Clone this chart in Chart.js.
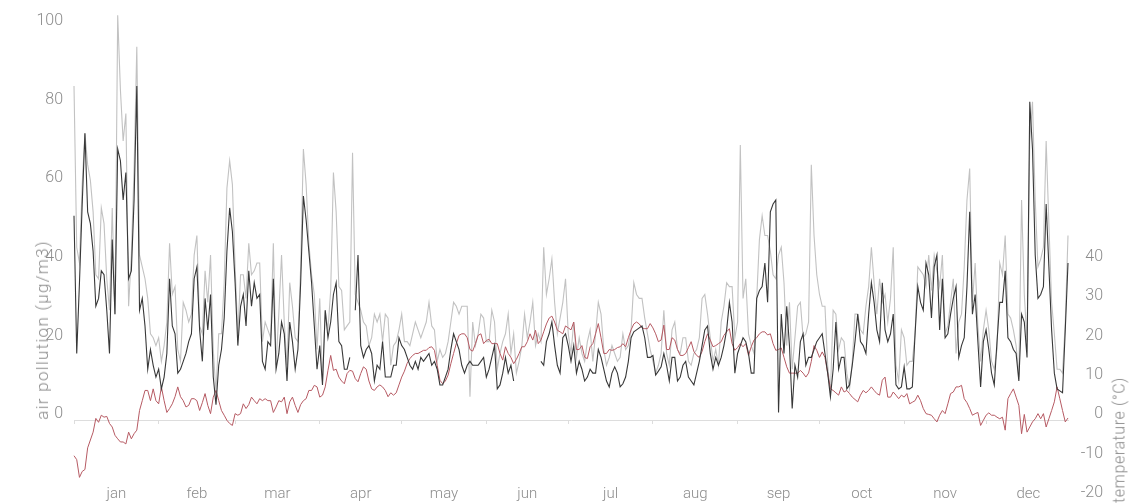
<!DOCTYPE html>
<html>
<head>
<meta charset="utf-8">
<script src="https://cdn.jsdelivr.net/npm/chart.js@4.4.1/dist/chart.umd.min.js"></script>
<style>
  html, body { margin: 0; padding: 0; background: #fff; }
  #wrap { position: relative; width: 1129px; height: 504px; overflow: hidden; }
  #wrap canvas { position: absolute; left: 0; top: 0; }
  .axis-title {
    position: absolute; white-space: nowrap;
    font-family: Roboto, "Noto Sans", sans-serif; font-weight: 300;
    color: #8c8c8c;
    transform: translate(-50%, -50%) rotate(-90deg);
  }
  #title-left { left: 42px; top: 330px; font-size: 17px; letter-spacing: 1.3px; }
  #title-right { left: 1119px; top: 440px; font-size: 16px; letter-spacing: 0.6px; }
</style>
</head>
<body>
<div id="wrap">
  <canvas id="chart" width="1129" height="504"></canvas>
  <div class="axis-title" id="title-left">air pollution (µg/m3)</div>
  <div class="axis-title" id="title-right">temperature (°C)</div>
</div>
<script>
// Month names and the day-of-year on which each month begins
const MONTHS = ['jan', 'feb', 'mar', 'apr', 'may', 'jun', 'jul', 'aug', 'sep', 'oct', 'nov', 'dec'];
const MONTH_START = [0, 31, 59, 90, 120, 151, 181, 212, 243, 273, 304, 334, 365];

// Axis tick values
const POLLUTION_TICKS = [0, 20, 40, 60, 80, 100];
const TEMPERATURE_TICKS = [-20, -10, 0, 10, 20, 30, 40];

// Daily air pollution, darker series (µg/m3); null = no measurement
const POLLUTION_DARK = [
  52, 17, 35, 55, 73, 53, 50, 43, 29, 31,
  38, 37, 28, 17, 46, 27, 69, 66, 56, 63,
  36, 38, 56, 85, 28, 31, 24, 13, 18, 14,
  11, 13, 8, 11, 17, 36, 24, 22, 12, 13,
  15, 17, 20, 22, 36, 39, 23, 15, 31, 23,
  32, 11, 4, 14, 18, 26, 43, 54, 48, 35,
  19, 29, 32, 24, 38, 29, 35, 31, 32, 15,
  13, 20, 19, 36, 13, 17, 25, 22, 10, 25,
  20, 13, 18, 35, 57, 51, 43, 35, 24, 13,
  19, 9, 28, 21, 25, 32, 35, 20, 19, 13,
  13, 16, null, 28, 42, 19, 16, 18, 19, 17,
  10, 14, 13, 20, 11, 11, 11, 14, 14, 21,
  19, 18, 16, 14, 13, 15, 13, 16, 15, 16,
  17, 14, 15, 13, 9, 9, 11, 13, 18, 22,
  20, 18, 14, 12, 14, 15, 14, 14, 14, 15,
  16, 11, 13, 16, 19, 8, 9, 12, 16, 12,
  14, 10, null, null, null, null, null, null, null, null,
  null, 15, 14, 20, 22, 25, 19, 14, 12, 21,
  22, 19, 15, 19, 12, 15, 13, 10, 11, 13,
  12, 12, 18, 16, 13, 10, 8.5, 12, 13.6, 12,
  8.5, 9.3, 11, 15, 21, 22.5, 23, 23.5, 24, 21,
  16, 16, 16.5, 11.5, 12.5, 13.6, 17, 14, 10, 16,
  16, 10, 11, 14, 15, 11, 10, 9, 12, 15,
  19, 23, 24, 17, 13, 16, 14, 16, 19, 23,
  30, 25, 12, 17, 19, 21, 20, 17, 12, 12,
  31, 33, 34, 40, 30, 53, 55, 56, 2, 27,
  17, 29, 19, 3, 14, 11, 20, 22, 14, 16,
  16, 18, 20, 21, 22, 17, 12, 6, 13, 25,
  13, 16, 16, 8, 9, 14, 20, 27, 20, 19,
  17, 27, 35, 30, 23, 20, 35, 23, 20, 22,
  27, 9, 8, 8.5, 13.6, 8, 8, 8.5, 22, 34,
  30, 28, 40, 37, 26, 39, 42, 23, 36, 21,
  22, 27, 31, 34, 16, 19, 21, 34, 53, 27,
  32, 20, 8.5, 20, 23, 18, 12, 9, 20, 30,
  30, 38, 21, 20, 18, 17, 10, 27, 25, 16,
  81, 69, 42, 31, 32, 34, 55, 39, 23, 12,
  8, 7.5, 7, 23, 40
];

// Daily air pollution, lighter series (µg/m3)
const POLLUTION_LIGHT = [
  85, 44, 40, 60, 73, 65, 61, 53, 37, 36,
  54, 50, 36, 28, 54, 27, 103, 84, 71, 78,
  29, 42, 64, 95, 42, 39, 36, 31, 22, 21,
  19, 21, 15, 19, 25, 45, 32, 34, 18, 15,
  30, 28, 25, 27, 42, 47, 24, 22, 38, 30,
  42, 18, 7, 22, 22, 35, 59, 66, 60, 39,
  22, 37, 37, 31, 45, 37, 38, 40, 40, 20,
  25, 23, 21, 45, 14, 27, 42, 25, 14, 35,
  29, 21, 20, 39, 69, 60, 45, 37, 32, 18,
  31, 10, 28, 23, 33, 63, 53, 34, 33, 23,
  24, 25, 68, 32, 30, 28, 25, 24, 19, 21,
  27, 25, 27, 20, 27, 26, 14, 19, 20, 23,
  27, 20, 20, 19, 22, 25, 23, 21, 23, 25,
  30, 24, 23, 15, 18, 16, 17, 20, 25, 30,
  29, 27, 29, 29, 29, 6, 25, 19, 22, 27,
  26, 20, 20, 28, 25, 13, 17, 20, 22, 27,
  17, 22, 12, 15, 19, 27, 21, 25, 30, 19,
  22, 20, 44, 32, 36, 41, 30, 22, 26, 30,
  36, 22, 17, 25, 16, 21, 17, 15, 20, 23,
  15, 22, 30, 27, 18, 14, 16, 19, 17, 15,
  16, 22, 18, 19, 23, 35, 32, 31, 31, 26,
  22, 18, 15, 12, 14, 17, 28, 17, 14, 23,
  25, 18, 17, 21, 21, 15, 14, 17, 18, 21,
  31, 32, 27, 21, 15, 18, 14, 25, 29, 35,
  34, 34, 21, 25, 70, 31, 36, 22, 19, 17,
  31, 46, 52, 47, 47, 43, 37, 36, 42, 44,
  35, 19, 30, 13, 21, 29, 30, 21, 22, 25,
  65, 47, 37, 32, 29, 29, 14, 7, 28, 27,
  18, 21, 20, 12, 8, 15, 27, 27, 23, 22,
  29, 34, 44, 35, 27, 36, 30, 32, 25, 31,
  44, 14, 10, 23, 21, 14, 15, 15, 22, 39,
  38, 37, 34, 42, 33, 42, 38, 34, 42, 22,
  24, 30, 36, 17, 25, 27, 39, 56, 64, 30,
  40, 24, 15, 23, 28, 23, 15, 13, 18, 40,
  37, 47, 27, 26, 23, 19, 11, 56, 32, 20,
  71, 81, 56, 39, 41, 44, 71, 50, 30, 22,
  13, 13, 12, 25, 47
];

// Daily mean temperature (°C)
const TEMPERATURE = [
  -9, -10, -14.5, -13, -12.5, -7, -5, -3, 0.5, -0.5,
  1.3, 0.8, 1, -0.8, -1.7, -3.8, -4.7, -5.5, -5.5, -6,
  -3, -4.7, -3.4, -2.5, 2.5, 5, 7.6, 7.6, 5, 8,
  5, 4.2, 8.5, 5, 2, 3, 4.2, 6, 8.5, 6,
  5, 3.4, 3.8, 5.5, 5.5, 5, 2.5, 4.5, 6.8, 3.8,
  1.7, 5.9, 7.6, 5, 2.5, 1.3, 0, -0.8, -1.3, 1.7,
  1.3, 1.7, 4.2, 3, 4, 5.9, 5, 4.2, 5.5, 5,
  5.5, 5, 5, 2, 3.4, 5, 4.7, 5.9, 1.7, 4.7,
  5.9, 3.8, 2, 4, 5, 5.5, 7.6, 7.6, 8.9, 8.5,
  5.9, 6.4, 8.5, 12.7, 16.5, 12.7, 13, 11, 10, 9.3,
  11.9, 12.7, 12.5, 10.6, 9.8, 11.9, 13.6, 13, 10, 8,
  7.6, 8.5, 9, 8.5, 7.6, 6, 7, 6.4, 7, 9,
  11, 12.5, 14.5, 15.7, 16.5, 17, 17, 17.4, 17.8, 17.8,
  18.5, 18.7, 17.8, 14, 10.2, 9.3, 10, 11.5, 14.4, 17,
  19.5, 21.6, 22, 22, 21, 18, 17.6, 19.5, 21.6, 22,
  19.5, 20.3, 20.6, 19.5, 19.5, 19.5, 17, 15.3, 18.7, 17,
  16, 14.4, 15.5, 17, 18.7, 18.7, 20, 22, 20.4, 22.9,
  19.5, 20.4, 22.5, 24.5, 26, 26.5, 25, 22.9, 22.5, 22,
  24, 23.5, 23, 25, 18, 18, 19, 16, 15.7, 18.7,
  19.5, 22, 24.6, 21, 17, 17, 18, 17.8, 18, 18.5,
  18.7, 19.5, 18.7, 21, 23, 24.5, 25, 24.5, 23.5, 23.3,
  23.3, 24.6, 23.5, 22, 20, 20.4, 24.2, 18, 18, 21,
  20.4, 18, 16.5, 16.5, 17, 18.5, 20, 17.5, 16.5, 16,
  17.5, 20, 22, 20.4, 18.7, 19, 19.5, 20, 21.6, 22.5,
  23.3, 19.5, 17.8, 18.5, 19.5, 18.7, 19.5, 16.5, 18.7, 20.4,
  21, 22, 22.5, 22.5, 21.7, 22, 19.5, 17.8, 18, 18.4,
  16, 13.6, 12, 12, 12, 12, 12.7, 12, 11, 12,
  15, 19, 17.8, 16, 17.4, 16, 12, 8, 7.6, 7,
  6.4, 8.5, 7.2, 7.6, 6.8, 5.9, 5.3, 4.7, 6.4, 7.6,
  7, 7.6, 8.5, 7.6, 6.8, 6.4, 10.2, 11, 5.9, 5.9,
  7.2, 6.4, 5.5, 6.4, 5.9, 6.8, 4.2, 4.6, 5, 6.4,
  5, 3, 1.7, 1.5, 1.3, 0.4, -0.4, 1.3, 2.5, 1.7,
  4.2, 6.8, 7.2, 8.5, 8.5, 8.9, 5.5, 4.5, 3, 1.3,
  1.7, 2, -1.3, 0, 1.3, 1.9, 1.3, 1.3, 0.8, 0.4,
  0.8, -2.5, 5.5, 6.8, 8, 5.9, 3.8, -3.4, 1.5, -3,
  -1.7, -0.4, 0.4, 1.7, 0.4, 1.7, -1.7, 0.4, 2.5, 4.7,
  8.5, 5.5, 2.5, -0.4, 0.6
];

const LAST_DAY = POLLUTION_DARK.length - 1;
const MONTH_MID = MONTHS.map((m, i) => (MONTH_START[i] + MONTH_START[i + 1]) / 2);

const FONT_FAMILY = 'Roboto, "Noto Sans", sans-serif';
const TEXT_COLOR = '#8c8c8c';
const AXIS_COLOR = '#dddddd';

const toPoints = arr => arr.map((v, i) => ({ x: i, y: v }));

const lineStyle = (color, width) => ({
  borderColor: color,
  borderWidth: width,
  pointRadius: 0,
  pointHoverRadius: 0,
  tension: 0,
  spanGaps: false,
  clip: false,
  fill: false
});

// Fixed axis sizes keep the plotting area in place regardless of label widths
const fixWidth = w => s => { s.width = w; s.paddingTop = 0; s.paddingBottom = 0; };
const fixHeight = h => s => { s.height = h; s.paddingLeft = 0; s.paddingRight = 0; };

new Chart(document.getElementById('chart'), {
  type: 'line',
  data: {
    datasets: [
      Object.assign({ label: 'air pollution', data: toPoints(POLLUTION_DARK), xAxisID: 'x', yAxisID: 'y' },
        lineStyle('#383838', 1.1)),
      Object.assign({ label: 'temperature', data: toPoints(TEMPERATURE), xAxisID: 'x', yAxisID: 'yTemp' },
        lineStyle('#b65a63', 1)),
      Object.assign({ label: 'air pollution (light)', data: toPoints(POLLUTION_LIGHT), xAxisID: 'x', yAxisID: 'y' },
        lineStyle('#c2c2c2', 1.1))
    ]
  },
  options: {
    responsive: false,
    animation: false,
    devicePixelRatio: 1,
    layout: { autoPadding: false, padding: { top: 27, right: 26, bottom: 0, left: 0 } },
    plugins: { legend: { display: false }, tooltip: { enabled: false } },
    events: [],
    scales: {
      x: {
        type: 'linear', position: 'bottom', min: 0, max: LAST_DAY,
        afterBuildTicks: s => { s.ticks = MONTH_MID.map(v => ({ value: v })); },
        afterFit: fixHeight(5),
        grid: { display: false, drawTicks: false },
        border: { display: false },
        ticks: {
          autoSkip: false, maxRotation: 0, mirror: true, padding: -4,
          color: TEXT_COLOR, font: { family: FONT_FAMILY, size: 15, weight: '300' },
          callback: (v, i) => MONTHS[i]
        }
      },
      xZero: {
        type: 'linear', position: { y: 0 }, min: 0, max: LAST_DAY,
        afterBuildTicks: s => { s.ticks = MONTH_START.slice(0, 12).map(v => ({ value: v })); },
        afterFit: fixHeight(0),
        grid: { display: true, drawOnChartArea: false, drawTicks: true, tickLength: 3, color: AXIS_COLOR },
        border: { display: true, color: AXIS_COLOR, width: 1 },
        ticks: { display: false }
      },
      y: {
        type: 'linear', position: 'left', min: -20, max: 100,
        afterBuildTicks: s => { s.ticks = POLLUTION_TICKS.map(v => ({ value: v })); },
        afterFit: fixWidth(74),
        grid: { display: false, drawTicks: false },
        border: { display: false },
        ticks: {
          padding: 11, labelOffset: -6,
          color: TEXT_COLOR, font: { family: FONT_FAMILY, size: 16, weight: '300' }
        }
      },
      yTemp: {
        type: 'linear', position: 'right', min: -20, max: 100,
        afterBuildTicks: s => { s.ticks = TEMPERATURE_TICKS.map(v => ({ value: v })); },
        afterFit: fixWidth(35),
        grid: { display: false, drawTicks: false },
        border: { display: false },
        ticks: {
          crossAlign: 'far', labelOffset: -6,
          color: TEXT_COLOR, font: { family: FONT_FAMILY, size: 16, weight: '300' }
        }
      }
    }
  }
});
</script>
</body>
</html>
